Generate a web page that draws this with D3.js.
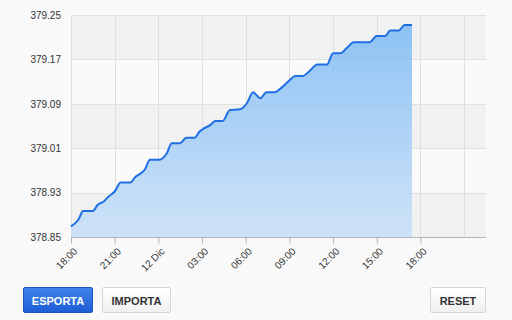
<!DOCTYPE html>
<html>
<head>
<meta charset="utf-8">
<script src="https://cdn.jsdelivr.net/npm/d3@7"></script>
<style>
  html, body { margin: 0; padding: 0; background: #f9f9f9; }
  body { width: 512px; height: 320px; position: relative; overflow: hidden;
         font-family: "Liberation Sans", Arial, sans-serif; }
  svg { position: absolute; left: 0; top: 0; }
  .btn { position: absolute; top: 287px; height: 26px; line-height: 26px; box-sizing: border-box;
         text-align: center; font-size: 11px; font-weight: bold; color: #333;
         border: 1px solid #d6d6d6; border-radius: 2px;
         background: linear-gradient(#ffffff, #f0f0f0); }
  .btn.primary { color: #fff; border-color: #1f56b8;
         background: linear-gradient(#3f84ea, #1d5ed6); }
</style>
</head>
<body>
<svg id="chart" width="512" height="320"></svg>
<div class="btn primary" style="left:23px;width:70px;">ESPORTA</div>
<div class="btn" style="left:102px;width:69px;">IMPORTA</div>
<div class="btn" style="left:430px;width:56px;">RESET</div>
<script>
// readings (day hh:mm) and values
const times = [
  '11 18:00', '11 18:30', '11 18:50', '11 19:30', '11 19:50', '11 20:15', '11 20:35', '11 21:00',
  '11 21:25', '11 22:05', '11 22:25', '11 22:45', '11 23:05', '11 23:25', '12 00:00', '12 00:35',
  '12 00:55', '12 01:30', '12 01:55', '12 02:30', '12 02:50', '12 03:10', '12 03:35', '12 03:55',
  '12 04:25', '12 04:55', '12 05:35', '12 06:05', '12 06:30', '12 07:00', '12 07:25', '12 08:00',
  '12 08:30', '12 08:55', '12 09:25', '12 09:55', '12 10:25', '12 10:55', '12 11:35', '12 12:00',
  '12 12:30', '12 12:55', '12 13:25', '12 14:30', '12 15:00', '12 15:35', '12 15:55', '12 16:30',
  '12 16:55', '12 17:25'
];
const values = [
  378.869, 378.881, 378.897, 378.897, 378.908, 378.914, 378.923, 378.932,
  378.948, 378.948, 378.958, 378.964, 378.972, 378.989, 378.989, 379.001,
  379.019, 379.019, 379.029, 379.029, 379.040, 379.046, 379.052, 379.059,
  379.059, 379.079, 379.080, 379.091, 379.111, 379.100, 379.111, 379.111,
  379.120, 379.130, 379.140, 379.140, 379.150, 379.161, 379.161, 379.181,
  379.181, 379.190, 379.201, 379.201, 379.212, 379.212, 379.222, 379.222,
  379.232, 379.232
];
const yTicks = [378.85, 378.93, 379.01, 379.09, 379.17, 379.25];
const xTickTimes = ['11 18:00', '11 21:00', '12 00:00', '12 03:00', '12 06:00', '12 09:00', '12 12:00', '12 15:00', '12 18:00'];
const xTickLabels = ['18:00', '21:00', '12 Dic', '03:00', '06:00', '09:00', '12:00', '15:00', '18:00'];
const xGridTimes = xTickTimes.concat(['12 21:00']);
const xDomain = ['11 18:00', '12 22:30'];

const parse = d3.timeParse('%d %H:%M');
const data = times.map((t, i) => ({ t: parse(t), v: values[i] }));

const plotLeft = 71, plotRight = 486, plotTop = 15, plotBottom = 237;
const svg = d3.select('#chart');

const x = d3.scaleTime().domain(xDomain.map(parse)).range([plotLeft, plotRight]);
const y = d3.scaleLinear().domain([378.85, 379.25]).range([plotBottom, plotTop]);

// alternating bands
svg.append('g')
  .selectAll('rect')
  .data(d3.pairs(yTicks))
  .join('rect')
  .attr('x', plotLeft)
  .attr('width', plotRight - plotLeft)
  .attr('y', d => y(d[1]))
  .attr('height', d => y(d[0]) - y(d[1]))
  .attr('fill', (d, i) => i % 2 === 0 ? '#f1f1f1' : '#fafafa');

// grid
const grid = svg.append('g').attr('stroke', '#e0e0e0').attr('stroke-width', 1);
grid.selectAll('.h')
  .data(yTicks)
  .join('line')
  .attr('x1', plotLeft).attr('x2', plotRight)
  .attr('y1', d => Math.round(y(d)) + 0.5)
  .attr('y2', d => Math.round(y(d)) + 0.5);
grid.selectAll('.v')
  .data(xGridTimes.map(parse))
  .join('line')
  .attr('x1', d => Math.round(x(d)) + 0.5)
  .attr('x2', d => Math.round(x(d)) + 0.5)
  .attr('y1', plotTop).attr('y2', plotBottom);

// gradient for the area
const grad = svg.append('defs').append('linearGradient')
  .attr('id', 'fillGrad')
  .attr('gradientUnits', 'userSpaceOnUse')
  .attr('x1', 0).attr('x2', 0)
  .attr('y1', plotTop).attr('y2', plotBottom);
grad.append('stop').attr('offset', 0).attr('stop-color', '#78b8f4');
grad.append('stop').attr('offset', 1).attr('stop-color', '#c8e0f8');

const area = d3.area()
  .x(d => x(d.t))
  .y0(plotBottom)
  .y1(d => y(d.v))
  .curve(d3.curveMonotoneX);

const line = d3.line()
  .x(d => x(d.t))
  .y(d => y(d.v))
  .curve(d3.curveMonotoneX);

svg.append('path')
  .datum(data)
  .attr('d', area)
  .attr('fill', 'url(#fillGrad)')
  .attr('fill-opacity', 0.85);

svg.append('path')
  .datum(data)
  .attr('d', line)
  .attr('fill', 'none')
  .attr('stroke', '#1f6fe3')
  .attr('stroke-width', 2)
  .attr('stroke-linejoin', 'round');

// x axis
const xAxis = d3.axisBottom(x)
  .tickValues(xTickTimes.map(parse))
  .tickSize(6)
  .tickFormat((d, i) => xTickLabels[i]);

const gx = svg.append('g')
  .attr('transform', `translate(0,${plotBottom + 0.5})`)
  .call(xAxis);
gx.select('.domain').attr('stroke', '#b5b5b5').attr('d', `M${plotLeft},0H${plotRight}`);
gx.selectAll('.tick line').attr('stroke', '#b5b5b5');
gx.selectAll('.tick text')
  .attr('fill', '#333')
  .attr('font-size', 10)
  .attr('font-family', '"Liberation Sans", Arial, sans-serif')
  .attr('text-anchor', 'end')
  .attr('dy', '0.35em')
  .attr('transform', 'translate(4,12) rotate(-45)')
  .attr('y', 0)
  .attr('x', 0);

// y axis labels
const yAxis = d3.axisLeft(y)
  .tickValues(yTicks)
  .tickSize(0)
  .tickPadding(10)
  .tickFormat(d3.format('.2f'));

const gy = svg.append('g')
  .attr('transform', `translate(${plotLeft},0)`)
  .call(yAxis);
gy.select('.domain').remove();
gy.selectAll('.tick text')
  .attr('fill', '#333')
  .attr('font-size', 10)
  .attr('font-family', '"Liberation Sans", Arial, sans-serif');
</script>
</body>
</html>
